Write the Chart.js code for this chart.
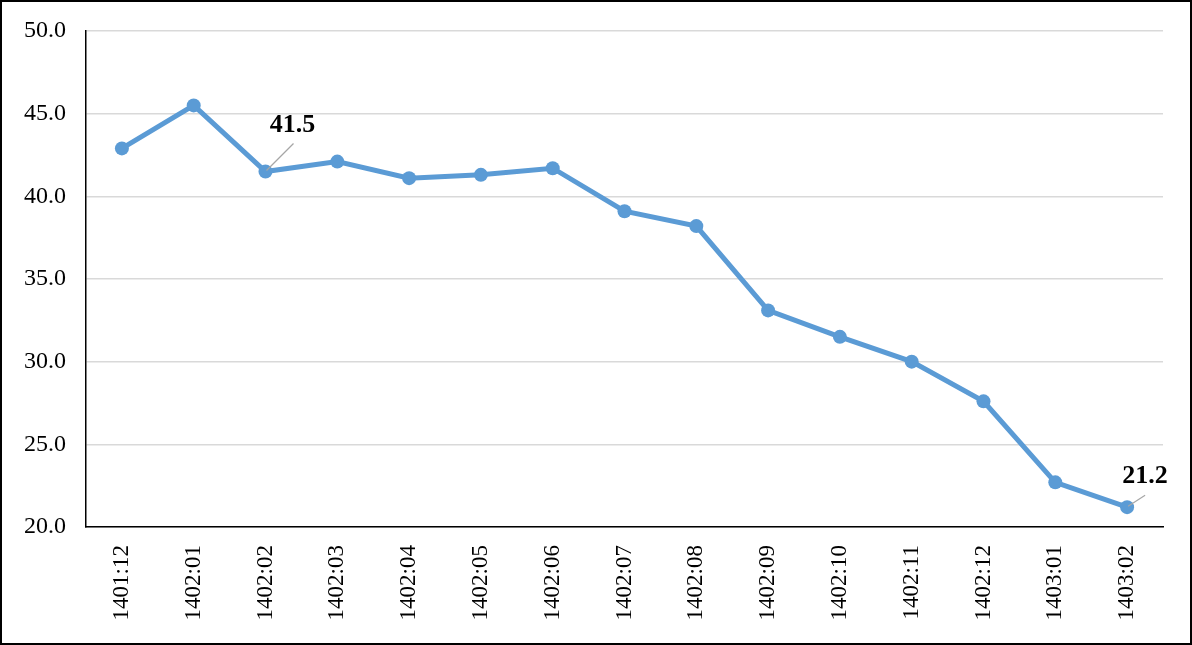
<!DOCTYPE html>
<html>
<head>
<meta charset="utf-8">
<script src="https://cdn.jsdelivr.net/npm/chart.js@4.4.1/dist/chart.umd.min.js"></script>
<style>
  html, body { margin: 0; padding: 0; background: #fff; }
  #wrap {
    width: 1192px; height: 645px; box-sizing: border-box;
    border: 2px solid #000; background: #fff;
  }
  #chart { display: block; }
</style>
</head>
<body>
<div id="wrap"><canvas id="chart" width="1188" height="641"></canvas></div>
<script>
const months = ['1401:12', '1402:01', '1402:02', '1402:03', '1402:04', '1402:05', '1402:06', '1402:07',
    '1402:08', '1402:09', '1402:10', '1402:11', '1402:12', '1403:01', '1403:02'];
const values = [42.9, 45.5, 41.5, 42.1, 41.1, 41.3, 41.7, 39.1, 38.2, 33.1, 31.5, 30.0, 27.6, 22.7, 21.2];
const yTicks = [20, 25, 30, 35, 40, 45, 50];
const labelledIdx = [2, 14];

const lineColor = '#5B9BD5';
const serif = "'Liberation Serif', 'Times New Roman', serif";

// draws the two value labels with their little leader lines
const valueLabels = {
    id: 'valueLabels',
    afterDatasetsDraw(chart) {
        const ctx = chart.ctx;
        const pts = chart.getDatasetMeta(0).data;
        // [text dx, text dy, line end dx, line end dy]
        const offsets = { 2: [27, -46, 28, -28], 14: [18, -31, 18, -12] };
        ctx.save();
        labelledIdx.forEach(i => {
            const p = pts[i];
            const [dx, dy, lx, ly] = offsets[i];
            ctx.strokeStyle = '#a6a6a6';
            ctx.lineWidth = 1.2;
            ctx.beginPath();
            ctx.moveTo(p.x + 1, p.y - 1);
            ctx.lineTo(p.x + lx, p.y + ly);
            ctx.stroke();
            ctx.fillStyle = '#000';
            ctx.font = 'bold 26px ' + serif;
            ctx.textAlign = 'center';
            ctx.textBaseline = 'middle';
            ctx.fillText(values[i].toFixed(1), p.x + dx, p.y + dy);
        });
        ctx.restore();
    }
};

new Chart(document.getElementById('chart').getContext('2d'), {
    type: 'line',
    data: {
        labels: months,
        datasets: [{
            data: values,
            borderColor: lineColor,
            backgroundColor: lineColor,
            borderWidth: 5,
            pointRadius: 7,
            pointHoverRadius: 7,
            pointBackgroundColor: lineColor,
            pointBorderWidth: 0,
            tension: 0,
            fill: false
        }]
    },
    options: {
        responsive: false,
        animation: false,
        events: [],
        layout: { padding: { top: 29, right: 27, left: 0, bottom: 0 } },
        plugins: {
            legend: { display: false },
            tooltip: { enabled: false }
        },
        scales: {
            x: {
                offset: true,
                grid: { display: false, drawTicks: false },
                border: { display: true, color: '#000', width: 1.5 },
                afterFit: scale => {
                    scale.height = 116;
                    scale.paddingLeft = 0;
                    scale.paddingRight = 0;
                },
                ticks: {
                    color: '#000',
                    font: { family: serif, size: 23 },
                    maxRotation: 90,
                    minRotation: 90,
                    autoSkip: false,
                    padding: 18
                }
            },
            y: {
                min: 20,
                max: 50,
                afterFit: scale => {
                    scale.width = 84;
                    scale.paddingTop = 0;
                    scale.paddingBottom = 0;
                },
                afterBuildTicks: scale => { scale.ticks = yTicks.map(v => ({ value: v })); },
                grid: { color: '#d9d9d9', lineWidth: 1.5, drawTicks: false },
                border: { display: true, color: '#000', width: 1.5 },
                ticks: {
                    color: '#000',
                    font: { family: serif, size: 24 },
                    padding: 20,
                    callback: v => v.toFixed(1)
                }
            }
        }
    },
    plugins: [valueLabels]
});
</script>
</body>
</html>
